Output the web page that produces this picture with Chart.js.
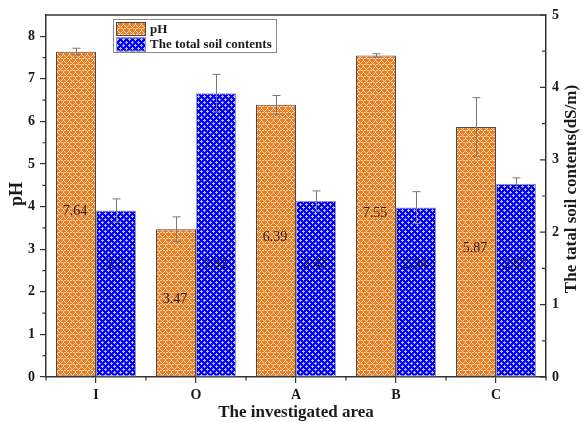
<!DOCTYPE html>
<html>
<head>
<meta charset="utf-8">
<script src="https://cdn.jsdelivr.net/npm/chart.js@4"></script>
<style>
  html, body { margin: 0; padding: 0; background: #fff; }
</style>
</head>
<body>
<canvas id="c" width="585" height="422"></canvas>
<script>
// Soil pH and total soil contents per investigated area
const areas = ['I', 'O', 'A', 'B', 'C'];
const phValues = [7.64, 3.47, 6.39, 7.55, 5.87];
const phErrors = [0.08, 0.29, 0.22, 0.04, 0.69];
const saltValues = [2.3, 3.92, 2.43, 2.34, 2.67];
const saltErrors = [0.16, 0.26, 0.14, 0.22, 0.08];
const phTicks = [0, 1, 2, 3, 4, 5, 6, 7, 8];
const saltTicks = [0, 1, 2, 3, 4, 5];

const SERIF = '"Liberation Serif", "Times New Roman", serif';
const INK = '#1a1a1a';

// small hatch tiles used as bar fills
function hatch(bg, light, pts) {
  const t = document.createElement('canvas');
  t.width = 6; t.height = 6;
  const g = t.getContext('2d');
  g.fillStyle = bg;
  g.fillRect(0, 0, 6, 6);
  g.fillStyle = light;
  pts.forEach(p => g.fillRect(p[0], p[1], 1, 1));
  return g.createPattern(t, 'repeat');
}
const ctx0 = document.getElementById('c').getContext('2d');
const orangeFill = hatch('#ef7d1f', 'rgba(255,235,215,0.85)',
  [[3,0],[2,1],[4,1],[1,2],[5,2],[0,3],[2,4],[4,4],[1,4],[5,4],[3,5]]);
const blueFill = hatch('#0000ff', 'rgba(220,220,255,0.85)',
  [[0,0],[1,0],[5,0],[0,1],[0,5],[3,3],[2,3],[4,3],[3,2],[3,4]]);

// error bars on top of each bar
const errorBars = {
  id: 'errorBars',
  afterDatasetsDraw(chart) {
    const c = chart.ctx;
    c.save();
    c.strokeStyle = '#7a7a7a';
    c.lineWidth = 1;
    chart.data.datasets.forEach((ds, i) => {
      const meta = chart.getDatasetMeta(i);
      const sc = chart.scales[ds.yAxisID];
      meta.data.forEach((bar, j) => {
        const v = ds.data[j], e = ds.errors[j];
        const yt = sc.getPixelForValue(v + e);
        const yb = sc.getPixelForValue(v - e);
        const x = Math.round(bar.x) + 0.5;
        c.beginPath();
        c.moveTo(x, yt); c.lineTo(x, yb);
        c.moveTo(x - 4, yt); c.lineTo(x + 4, yt);
        c.moveTo(x - 4, yb); c.lineTo(x + 4, yb);
        c.stroke();
      });
    });
    c.restore();
  }
};

// value labels inside the bars
const valueLabels = {
  id: 'valueLabels',
  afterDatasetsDraw(chart) {
    const c = chart.ctx;
    c.save();
    c.font = '14px ' + SERIF;
    c.fillStyle = '#222';
    c.textAlign = 'center';
    c.textBaseline = 'middle';
    chart.data.datasets.forEach((ds, i) => {
      const meta = chart.getDatasetMeta(i);
      meta.data.forEach((bar, j) => {
        let y;
        if (i === 0) y = (bar.y + bar.base) / 2 - 3;
        else y = chart.scales.y1.getPixelForValue(1.55);
        c.fillText(String(ds.data[j]), bar.x - 1, y);
      });
    });
    c.restore();
  }
};

// frame, minor ticks, inward right ticks, titles and legend
const decorations = {
  id: 'decorations',
  afterDraw(chart) {
    const c = chart.ctx;
    const a = chart.chartArea;
    const y = chart.scales.y, y1 = chart.scales.y1;
    c.save();
    c.strokeStyle = '#333';
    c.lineWidth = 1.5;
    // top frame line
    c.beginPath();
    c.moveTo(a.left, a.top); c.lineTo(a.right, a.top);
    c.stroke();
    c.lineWidth = 1.2;
    c.beginPath();
    // left minor ticks (outward)
    for (let v = 0.5; v < 8.5; v += 1) {
      const p = y.getPixelForValue(v);
      c.moveTo(a.left - 3.5, p); c.lineTo(a.left, p);
    }
    // right major and minor ticks (inward)
    for (let v = 0; v <= 5.001; v += 0.5) {
      const p = y1.getPixelForValue(v);
      const len = Number.isInteger(v) ? 6 : 4;
      c.moveTo(a.right, p); c.lineTo(a.right - len, p);
    }
    // bottom minor ticks between categories
    for (let k = 0; k <= areas.length; k++) {
      const px = a.left + (a.right - a.left) * k / areas.length;
      c.moveTo(px, a.bottom); c.lineTo(px, a.bottom + 3.5);
    }
    c.stroke();

    // axis titles
    c.fillStyle = INK;
    c.textAlign = 'center';
    c.textBaseline = 'middle';
    c.font = 'bold 17px ' + SERIF;
    c.fillText('The investigated area', (a.left + a.right) / 2, 413);
    c.save();
    c.translate(17, 194);
    c.rotate(-Math.PI / 2);
    c.font = 'bold 18px ' + SERIF;
    c.fillText('pH', 0, 0);
    c.restore();
    c.save();
    c.translate(572, 189);
    c.rotate(-Math.PI / 2);
    c.font = 'bold 17px ' + SERIF;
    c.fillText('The tatal soil contents(dS/m)', 0, 0);
    c.restore();

    // legend
    c.lineWidth = 1;
    c.strokeStyle = '#8a8a8a';
    c.fillStyle = '#fff';
    c.fillRect(113.5, 19.5, 163, 33);
    c.strokeRect(113.5, 19.5, 163, 33);
    const rows = [22, 37.5];
    chart.data.datasets.forEach((ds, i) => {
      const top = rows[i];
      c.fillStyle = ds.backgroundColor;
      c.fillRect(116, top, 30, 14);
      c.strokeStyle = ds.borderColor;
      c.strokeRect(116.5, top + 0.5, 29, 13);
      c.fillStyle = INK;
      c.textAlign = 'left';
      c.font = 'bold 13px ' + SERIF;
      c.fillText(ds.label, 150, top + 7.5);
    });
    c.restore();
  }
};

new Chart(document.getElementById('c'), {
  type: 'bar',
  data: {
    labels: areas,
    datasets: [
      {
        label: 'pH',
        data: phValues,
        errors: phErrors,
        yAxisID: 'y',
        backgroundColor: orangeFill,
        borderColor: '#4a4a4a',
        borderWidth: 1,
        borderSkipped: false
      },
      {
        label: 'The total soil contents',
        data: saltValues,
        errors: saltErrors,
        yAxisID: 'y1',
        backgroundColor: blueFill,
        borderColor: '#9a9aaa',
        borderWidth: 1,
        borderSkipped: false
      }
    ]
  },
  options: {
    responsive: false,
    animation: false,
    events: [],
    categoryPercentage: 0.8,
    barPercentage: 1.0,
    layout: { padding: { top: 15, left: 0, right: 0, bottom: 0 } },
    plugins: {
      legend: { display: false },
      tooltip: { enabled: false }
    },
    scales: {
      x: {
        offset: true,
        grid: { display: true, drawOnChartArea: false, offset: false, tickLength: 6, color: '#333', lineWidth: 1.2 },
        border: { display: true, color: '#333', width: 1.5 },
        ticks: { color: INK, font: { family: SERIF, size: 14, weight: 'bold' }, padding: 4 },
        afterFit(s) { s.height = 45; }
      },
      y: {
        position: 'left',
        min: 0,
        max: 8.5,
        afterBuildTicks(s) { s.ticks = phTicks.map(v => ({ value: v })); },
        grid: { display: true, drawOnChartArea: false, tickLength: 6, color: '#333', lineWidth: 1.2 },
        border: { display: true, color: '#333', width: 1.5 },
        ticks: { color: INK, font: { family: SERIF, size: 14, weight: 'bold' }, padding: 5 },
        afterFit(s) { s.width = 46; }
      },
      y1: {
        position: 'right',
        min: 0,
        max: 5,
        afterBuildTicks(s) { s.ticks = saltTicks.map(v => ({ value: v })); },
        grid: { display: true, drawOnChartArea: false, drawTicks: false },
        border: { display: true, color: '#333', width: 1.5 },
        ticks: { color: INK, font: { family: SERIF, size: 14, weight: 'bold' }, padding: 6 },
        afterFit(s) { s.width = 39; }
      }
    }
  },
  plugins: [errorBars, valueLabels, decorations]
});
</script>
</body>
</html>
